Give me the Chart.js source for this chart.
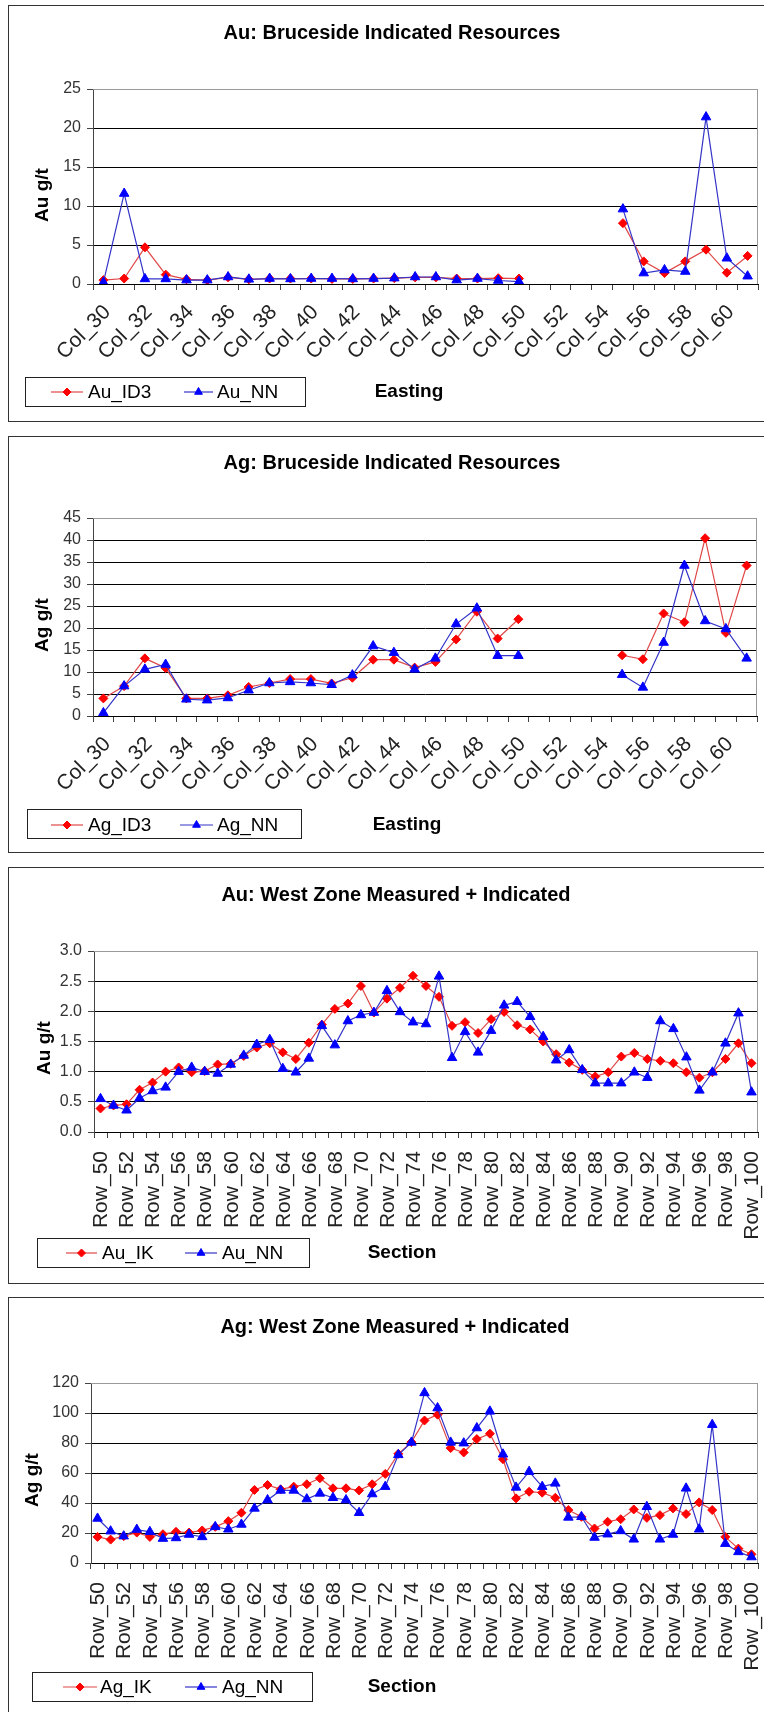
<!DOCTYPE html>
<html>
<head>
<meta charset="utf-8">
<script src="https://cdn.jsdelivr.net/npm/chart.js@4.4.1/dist/chart.umd.min.js"></script>
<style>
  body { margin: 0; background: #fff; width: 764px; height: 1712px; overflow: hidden; position: relative; }
  .box { position: absolute; left: 8px; width: 788px; height: 415px; border: 1px solid #333; background: #fff; }
  .box canvas { display: block; }
</style>
</head>
<body>
<div class="box" style="top:5px"><canvas id="graficaAuBruce" width="788" height="415"></canvas></div>
<div class="box" style="top:436px"><canvas id="graficaAgBruce" width="788" height="415"></canvas></div>
<div class="box" style="top:867px"><canvas id="graficaAuWest" width="788" height="415"></canvas></div>
<div class="box" style="top:1297px"><canvas id="graficaAgWest" width="788" height="415"></canvas></div>
<script>
// ======================
// DATOS
// ======================
const colLabels = ['Col_30','Col_31','Col_32','Col_33','Col_34','Col_35','Col_36','Col_37','Col_38','Col_39',
  'Col_40','Col_41','Col_42','Col_43','Col_44','Col_45','Col_46','Col_47','Col_48','Col_49',
  'Col_50','Col_51','Col_52','Col_53','Col_54','Col_55','Col_56','Col_57','Col_58','Col_59',
  'Col_60','Col_61'];

const rowLabels = ['Row_50','Row_51','Row_52','Row_53','Row_54','Row_55','Row_56','Row_57','Row_58','Row_59',
  'Row_60','Row_61','Row_62','Row_63','Row_64','Row_65','Row_66','Row_67','Row_68','Row_69',
  'Row_70','Row_71','Row_72','Row_73','Row_74','Row_75','Row_76','Row_77','Row_78','Row_79',
  'Row_80','Row_81','Row_82','Row_83','Row_84','Row_85','Row_86','Row_87','Row_88','Row_89',
  'Row_90','Row_91','Row_92','Row_93','Row_94','Row_95','Row_96','Row_97','Row_98','Row_99',
  'Row_100'];

// Bruceside - Au
const auId3 = [0.5, 0.7, 4.7, 1.2, 0.6, 0.5, 0.85, 0.6, 0.7, 0.7, 0.7, 0.65, 0.65, 0.7, 0.75, 0.85,
  0.85, 0.7, 0.7, 0.75, 0.7, null, null, null, null, 7.8, 2.9, 1.4, 2.9, 4.4, 1.45, 3.6];
const auNN = [0.2, 11.6, 0.65, 0.65, 0.5, 0.5, 0.9, 0.6, 0.7, 0.65, 0.7, 0.7, 0.65, 0.7, 0.75, 0.9,
  0.9, 0.5, 0.7, 0.45, 0.3, null, null, null, null, 9.6, 1.4, 1.8, 1.6, 21.4, 3.3, 1.0];

// Bruceside - Ag
const agId3 = [4.0, 6.8, 13.1, 10.9, 4.0, 4.0, 4.7, 6.6, 7.5, 8.4, 8.4, 7.4, 8.7, 12.8, 12.8, 11.0,
  12.3, 17.4, 23.7, 17.6, 22.0, null, null, null, null, 13.8, 12.9, 23.3, 21.3, 40.4, 18.9, 34.2];
const agNN = [0.7, 6.8, 10.6, 11.7, 3.8, 3.6, 4.1, 5.85, 7.5, 7.75, 7.5, 7.1, 9.3, 15.9, 14.4, 10.6,
  13.1, 20.9, 24.5, 13.7, 13.7, null, null, null, null, 9.4, 6.5, 16.7, 34.2, 21.6, 19.8, 13.1];

// West Zone - Au
const auIK = [0.39, 0.44, 0.46, 0.70, 0.82, 1.00, 1.07, 0.99, 1.01, 1.12, 1.13, 1.26, 1.40, 1.47, 1.32,
  1.21, 1.48, 1.78, 2.04, 2.13, 2.42, 1.98, 2.21, 2.39, 2.59, 2.42, 2.24, 1.76, 1.82, 1.64,
  1.87, 1.99, 1.77, 1.70, 1.50, 1.29, 1.15, 1.03, 0.92, 0.99, 1.25, 1.31, 1.21, 1.18, 1.14,
  0.99, 0.90, 0.99, 1.21, 1.47, 1.14];
const auNNWest = [0.55, 0.44, 0.36, 0.56, 0.68, 0.74, 1.00, 1.07, 1.00, 0.97, 1.12, 1.27, 1.45, 1.53, 1.05,
  0.99, 1.22, 1.76, 1.44, 1.84, 1.94, 1.98, 2.34, 1.99, 1.82, 1.79, 2.58, 1.23, 1.66, 1.32,
  1.68, 2.10, 2.16, 1.91, 1.58, 1.19, 1.36, 1.03, 0.81, 0.81, 0.81, 0.99, 0.90, 1.84, 1.71,
  1.24, 0.69, 0.99, 1.47, 1.97, 0.66];

// West Zone - Ag
const agIK = [17.4, 15.6, 17.9, 20.3, 17.4, 19.2, 20.8, 20.3, 21.7, 24.1, 27.9, 33.5, 48.7, 52.0, 49.1,
  50.9, 52.5, 56.5, 49.8, 49.8, 48.4, 52.5, 59.4, 72.8, 80.6, 95.0, 98.9, 76.6, 73.7, 82.6,
  86.2, 69.2, 43.1, 47.5, 46.9, 43.5, 35.3, 30.8, 23.0, 27.5, 29.2, 35.7, 30.1, 31.9, 36.4,
  32.6, 40.4, 35.3, 17.4, 9.6, 5.8];
const agNNWest = [29.7, 21.2, 17.9, 22.3, 20.8, 16.3, 16.7, 19.0, 17.4, 24.1, 22.5, 25.7, 36.4, 42.0, 48.4,
  48.4, 42.6, 46.4, 43.5, 42.0, 33.5, 46.0, 50.9, 72.1, 80.4, 113.4, 103.3, 80.4, 79.9, 90.0,
  101.1, 72.5, 50.4, 60.9, 50.9, 53.1, 30.4, 30.8, 17.0, 19.2, 21.4, 15.8, 37.5, 15.8, 19.0,
  49.8, 22.5, 92.2, 12.9, 7.4, 4.0];

// marcas del eje Y
const auBruceTicks = [0, 5, 10, 15, 20, 25];
const agBruceTicks = [0, 5, 10, 15, 20, 25, 30, 35, 40, 45];
const auWestTicks = [0, 0.5, 1.0, 1.5, 2.0, 2.5, 3.0];
const agWestTicks = [0, 20, 40, 60, 80, 100, 120];

// ======================
// ESTILO
// ======================
const FONT = "'Liberation Sans', Arial, sans-serif";
const RED = '#ff0000', RED_LINE = '#e04848';
const BLUE = '#0000ff', BLUE_LINE = '#3434c8';

// titulo, leyenda con recuadro y etiquetas dibujadas en el canvas
const decor = {
  id: 'decor',
  beforeDatasetsDraw(chart) {
    const a = chart.chartArea, ctx = chart.ctx;
    ctx.save();
    ctx.strokeStyle = '#9a9a9a';
    ctx.lineWidth = 1;
    ctx.beginPath();
    ctx.moveTo(a.left, Math.round(a.top) + 0.5);
    ctx.lineTo(Math.round(a.right) - 0.5, Math.round(a.top) + 0.5);
    ctx.lineTo(Math.round(a.right) - 0.5, a.bottom);
    ctx.stroke();
    ctx.restore();
  },
  afterDraw(chart, args, o) {
    const ctx = chart.ctx;
    ctx.save();
    ctx.fillStyle = '#000';
    ctx.textBaseline = 'middle';

    // titulo
    ctx.font = 'bold 20px ' + FONT;
    ctx.textAlign = 'center';
    ctx.fillText(o.title, o.titleX, o.titleY);

    // titulo eje Y
    ctx.font = 'bold 19px ' + FONT;
    ctx.save();
    ctx.translate(o.yTitleX, o.yTitleY);
    ctx.rotate(-Math.PI / 2);
    ctx.fillText(o.yTitle, 0, 0);
    ctx.restore();

    // titulo eje X (a la derecha de la leyenda)
    ctx.fillText(o.xTitle, o.xTitleX, o.legendY);

    // recuadro de leyenda
    const b = o.legendBox;
    ctx.strokeStyle = '#222';
    ctx.lineWidth = 1;
    ctx.strokeRect(b[0] + 0.5, b[1] + 0.5, b[2], b[3]);

    ctx.font = '19px ' + FONT;
    ctx.textAlign = 'left';
    chart.data.datasets.forEach((ds, i) => {
      const it = o.items[i];
      ctx.strokeStyle = ds.borderColor;
      ctx.lineWidth = 1.2;
      ctx.beginPath();
      ctx.moveTo(it[0], o.legendY);
      ctx.lineTo(it[1], o.legendY);
      ctx.stroke();
      ctx.fillStyle = ds.pointBackgroundColor;
      ctx.strokeStyle = ds.pointBorderColor;
      ctx.lineWidth = 1;
      Chart.helpers.drawPoint(ctx, {
        pointStyle: ds.pointStyle,
        radius: ds.pointStyle === 'triangle' ? 4.5 : 4,
        borderWidth: 1,
        rotation: 0
      }, (it[0] + it[1]) / 2, o.legendY);
      ctx.fillStyle = '#000';
      ctx.fillText(ds.label, it[2], o.legendY + 1);
    });
    ctx.restore();
  }
};

function serie(label, data, isNN) {
  return {
    label: label,
    data: data,
    borderColor: isNN ? BLUE_LINE : RED_LINE,
    backgroundColor: isNN ? BLUE : RED,
    borderWidth: 1.2,
    tension: 0,
    spanGaps: false,
    pointStyle: isNN ? 'triangle' : 'rectRot',
    pointRadius: isNN ? 5.5 : 4.5,
    pointBackgroundColor: isNN ? BLUE : RED,
    pointBorderColor: isNN ? BLUE : RED,
    pointBorderWidth: 1,
    order: isNN ? 0 : 1
  };
}

function grafica(id, cfg) {
  const yTicks = cfg.yTicks;
  const yMax = yTicks[yTicks.length - 1];
  const H = 415, W = 788;
  new Chart(document.getElementById(id), {
    type: 'line',
    data: {
      labels: cfg.labels,
      datasets: [serie(cfg.names[0], cfg.series[0], false), serie(cfg.names[1], cfg.series[1], true)]
    },
    options: {
      responsive: false,
      animation: false,
      events: [],
      layout: { padding: { left: 0, top: cfg.area.top, right: W - cfg.area.right, bottom: 0 } },
      plugins: {
        legend: { display: false },
        title: { display: false },
        tooltip: { enabled: false },
        decor: cfg.decor
      },
      scales: {
        x: {
          offset: true,
          grid: { offset: true, drawOnChartArea: false, tickLength: 6, color: '#444' },
          border: { color: '#000', width: 1 },
          ticks: {
            autoSkip: false,
            minRotation: cfg.rotation,
            maxRotation: cfg.rotation,
            padding: cfg.tickPad,
            labelOffset: cfg.labelOffset,
            color: '#222',
            font: { family: FONT, size: cfg.xFont },
            callback: function (v, i) { return i % 2 === 0 ? this.getLabelForValue(v) : ''; }
          },
          afterFit: s => { s.height = H - cfg.area.bottom; }
        },
        y: {
          min: yTicks[0],
          max: yMax,
          grid: {
            color: c => (c.tick && c.tick.value === yMax) ? '#9a9a9a' : '#000',
            tickColor: '#444',
            tickLength: 6
          },
          border: { color: '#444', width: 1 },
          ticks: {
            autoSkip: false,
            stepSize: yTicks[1] - yTicks[0],
            padding: 6,
            color: '#333',
            font: { family: FONT, size: 16 },
            callback: v => cfg.yDecimals ? Number(v).toFixed(cfg.yDecimals) : v
          },
          afterFit: s => { s.width = cfg.area.left; }
        }
      }
    },
    plugins: [decor]
  });
}

document.addEventListener('DOMContentLoaded', function () {
  grafica('graficaAuBruce', {
    labels: colLabels, names: ['Au_ID3', 'Au_NN'], series: [auId3, auNN], yTicks: auBruceTicks,
    area: { left: 84, right: 749, top: 83, bottom: 278 }, rotation: 45, xFont: 21, tickPad: 10, labelOffset: 4,
    decor: {
      title: 'Au: Bruceside Indicated Resources', titleX: 383, titleY: 27,
      yTitle: 'Au g/t', yTitleX: 34, yTitleY: 189,
      xTitle: 'Easting', xTitleX: 400,
      legendBox: [16, 371, 280, 29], legendY: 386,
      items: [[42, 74, 79], [175, 204, 208]]
    }
  });

  grafica('graficaAgBruce', {
    labels: colLabels, names: ['Ag_ID3', 'Ag_NN'], series: [agId3, agNN], yTicks: agBruceTicks,
    area: { left: 84, right: 748, top: 81, bottom: 279 }, rotation: 45, xFont: 21, tickPad: 10, labelOffset: 4,
    decor: {
      title: 'Ag: Bruceside Indicated Resources', titleX: 383, titleY: 26,
      yTitle: 'Ag g/t', yTitleX: 34, yTitleY: 188,
      xTitle: 'Easting', xTitleX: 398,
      legendBox: [18, 372, 274, 29], legendY: 388,
      items: [[42, 74, 79], [171, 204, 208]]
    }
  });

  grafica('graficaAuWest', {
    labels: rowLabels, names: ['Au_IK', 'Au_NN'], series: [auIK, auNNWest], yTicks: auWestTicks,
    area: { left: 85, right: 749, top: 83, bottom: 264 }, rotation: 90, xFont: 21, tickPad: 13, labelOffset: 1, yDecimals: 1,
    decor: {
      title: 'Au: West Zone Measured + Indicated', titleX: 387, titleY: 27,
      yTitle: 'Au g/t', yTitleX: 36, yTitleY: 180,
      xTitle: 'Section', xTitleX: 393,
      legendBox: [28, 370, 272, 29], legendY: 385,
      items: [[57, 88, 93], [176, 208, 213]]
    }
  });

  grafica('graficaAgWest', {
    labels: rowLabels, names: ['Ag_IK', 'Ag_NN'], series: [agIK, agNNWest], yTicks: agWestTicks,
    area: { left: 82, right: 749, top: 85, bottom: 265 }, rotation: 90, xFont: 21, tickPad: 13, labelOffset: 1,
    decor: {
      title: 'Ag: West Zone Measured + Indicated', titleX: 386, titleY: 29,
      yTitle: 'Ag g/t', yTitleX: 24, yTitleY: 182,
      xTitle: 'Section', xTitleX: 393,
      legendBox: [23, 374, 280, 29], legendY: 389,
      items: [[54, 88, 91], [176, 208, 213]]
    }
  });
});
</script>
</body>
</html>
